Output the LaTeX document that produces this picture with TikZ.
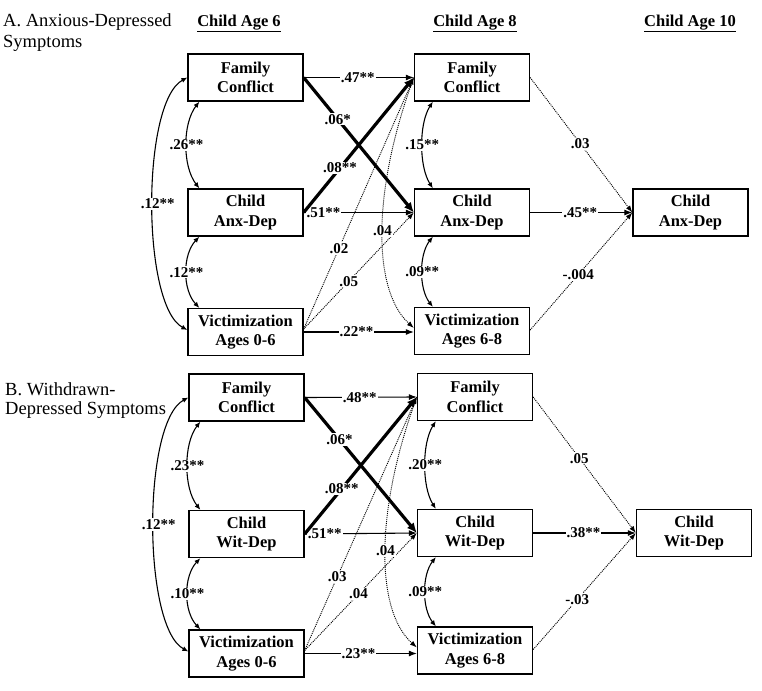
\documentclass[tikz,border=0pt]{standalone}
\usepackage{fontspec}
\setmainfont{Liberation Serif}
\usetikzlibrary{arrows.meta,calc}
\begin{document}
\begin{tikzpicture}[x=1pt,y=-1pt,
 box/.style={draw, line width=1.3pt, minimum width=115pt, minimum height=47pt, align=center, font=\fontsize{16.5}{19.5}\selectfont\bfseries, inner sep=0pt},
 lab/.style={fill=white, inner sep=1pt, font=\fontsize{15}{16}\selectfont\bfseries},
 sol/.style={line width=1.1pt, -{Latex[length=8pt,width=6pt]}},
 bld/.style={line width=3.2pt, -{Latex[length=10pt,width=9pt]}},
 dotl/.style={line width=0.9pt, dash pattern=on 1pt off 1pt, -{Latex[length=7pt,width=5pt]}},
 cov/.style={line width=1.1pt, {Latex[length=6pt,width=5pt]}-{Latex[length=6pt,width=5pt]}},
 head/.style={font=\fontsize{16.5}{19.5}\selectfont\bfseries, anchor=base, inner sep=0pt},
 ttl/.style={font=\fontsize{18.5}{22}\selectfont, anchor=base west, inner sep=0pt}
]
\useasboundingbox (0,0) rectangle (762,690);

% ---------------- Panel A ----------------
\node[ttl] (AT1) at (3,27) {A. Anxious-Depressed};
\node[ttl] (AT2) at (3,48) {Symptoms};
\node[head] (AH6) at (239,26.5) {\underline{Child Age 6}};
\node[head] (AH8) at (475,26.5) {\underline{Child Age 8}};
\node[head] (AH10) at (690,26.5) {\underline{Child Age 10}};

\node[box] (AFC6) at (245.5,77.5) {Family\\Conflict};
\node[box] (AC6) at (245.5,212.5) {Child\\Anx-Dep};
\node[box] (AV6) at (245.5,332) {Victimization\\Ages 0-6};
\node[box] (AFC8) at (472,77.5) {Family\\Conflict};
\node[box] (AC8) at (472,212.5) {Child\\Anx-Dep};
\node[box] (AV8) at (472,331) {Victimization\\Ages 6-8};
\node[box] (AC10) at (690.5,212.5) {Child\\Anx-Dep};

\coordinate (AVo) at ([yshift=3pt]AV6.east);
\draw[dotl] (AVo) -- node[lab,pos=0.32]{.02} (AFC8.west);
\draw[dotl] (AVo) -- node[lab,pos=0.41]{.05} (AC8.west);
\draw[dotl] (AFC8.west) .. controls (372,190) and (372,290) .. node[lab,pos=0.5]{.04} ([yshift=3pt]AV8.west);

\draw[sol] (AFC6.east) -- node[lab,pos=0.49]{.47**} (AFC8.west);
\draw[sol] (AC6.east) -- node[lab,pos=0.18]{.51**} (AC8.west);
\draw[sol] (AV6.east) -- node[lab,pos=0.48]{.22**} (AV8.west |- AV6.east);
\draw[bld] (AFC6.east) -- node[lab,pos=0.31]{.06*} (AC8.west);
\draw[bld] (AC6.east) -- node[lab,pos=0.33]{.08**} (AFC8.west);

\draw[dotl] (AFC8.east) -- node[lab,pos=0.49]{.03} (AC10.west);
\draw[sol] (AC8.east) -- node[lab,pos=0.49]{.45**} (AC10.west);
\draw[dotl] ([yshift=1pt]AV8.east) -- node[lab,pos=0.47]{-.004} (AC10.west);

\draw[cov] ([xshift=12pt]AFC6.south west) .. controls +(-17,22) and +(-17,-22) .. node[lab]{.26**} ([xshift=12pt]AC6.north west);
\draw[cov] ([xshift=12pt]AC6.south west) .. controls +(-17,18) and +(-17,-18) .. node[lab]{.12**} ([xshift=12pt]AV6.north west);
\draw[cov] (AFC6.west) .. controls +(-46,25) and +(-46,-25) .. node[lab,xshift=5pt]{.12**} ([yshift=2pt]AV6.west);
\draw[cov] ([xshift=19pt]AFC8.south west) .. controls +(-14,22) and +(-14,-22) .. node[lab]{.15**} ([xshift=19pt]AC8.north west);
\draw[cov] ([xshift=19pt]AC8.south west) .. controls +(-14,18) and +(-14,-18) .. node[lab]{.09**} ([xshift=19pt]AV8.north west);

% ---------------- Panel B ----------------
\node[ttl] (BT1) at (5,395) {B. Withdrawn-};
\node[ttl] (BT2) at (5,414) {Depressed Symptoms};

\node[box] (BFC6) at (246.5,397.5) {Family\\Conflict};
\node[box] (BC6) at (246.5,534) {Child\\Wit-Dep};
\node[box] (BV6) at (246.5,653.5) {Victimization\\Ages 0-6};
\node[box] (BFC8) at (475,397) {Family\\Conflict};
\node[box] (BC8) at (475,533) {Child\\Wit-Dep};
\node[box] (BV8) at (475,650.5) {Victimization\\Ages 6-8};
\node[box] (BC10) at (694,533) {Child\\Wit-Dep};

\coordinate (BVo) at ([yshift=3pt]BV6.east);
\draw[dotl] (BVo) -- node[lab,pos=0.29]{.03} (BFC8.west);
\draw[dotl] (BVo) -- node[lab,pos=0.48]{.04} (BC8.west);
\draw[dotl] (BFC8.west) .. controls (375,510) and (375,610) .. node[lab,pos=0.5]{.04} ([yshift=3pt]BV8.west);

\draw[sol] (BFC6.east) -- node[lab,pos=0.49]{.48**} (BFC8.west);
\draw[sol] (BC6.east) -- node[lab,pos=0.18]{.51**} (BC8.west);
\draw[sol] (BV6.east) -- node[lab,pos=0.48]{.23**} (BV8.west |- BV6.east);
\draw[bld] (BFC6.east) -- node[lab,pos=0.31]{.06*} (BC8.west);
\draw[bld] (BC6.east) -- node[lab,pos=0.33]{.08**} (BFC8.west);

\draw[dotl] (BFC8.east) -- node[lab,pos=0.45]{.05} (BC10.west);
\draw[sol] (BC8.east) -- node[lab,pos=0.49]{.38**} (BC10.west);
\draw[dotl] ([yshift=1pt]BV8.east) -- node[lab,pos=0.43]{-.03} (BC10.west);

\draw[cov] ([xshift=12pt]BFC6.south west) .. controls +(-17,22) and +(-17,-22) .. node[lab]{.23**} ([xshift=12pt]BC6.north west);
\draw[cov] ([xshift=12pt]BC6.south west) .. controls +(-17,18) and +(-17,-18) .. node[lab]{.10**} ([xshift=12pt]BV6.north west);
\draw[cov] (BFC6.west) .. controls +(-46,25) and +(-46,-25) .. node[lab,xshift=5pt]{.12**} ([yshift=2pt]BV6.west);
\draw[cov] ([xshift=19pt]BFC8.south west) .. controls +(-14,22) and +(-14,-22) .. node[lab]{.20**} ([xshift=19pt]BC8.north west);
\draw[cov] ([xshift=19pt]BC8.south west) .. controls +(-14,18) and +(-14,-18) .. node[lab]{.09**} ([xshift=19pt]BV8.north west);
\end{tikzpicture}
\end{document}
